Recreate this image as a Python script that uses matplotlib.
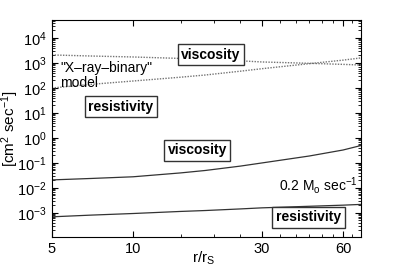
import matplotlib
matplotlib.use("Agg")
import matplotlib.pyplot as plt
from matplotlib.ticker import FixedLocator, NullFormatter, LogFormatterSciNotation

plt.rcParams["font.family"] = ["Liberation Sans", "DejaVu Sans"]
plt.rcParams["mathtext.fontset"] = "custom"
plt.rcParams["mathtext.rm"] = "Liberation Sans"
plt.rcParams["mathtext.it"] = "Liberation Sans"

# r / r_S
r = [5, 7, 10, 15, 18.5, 25, 30, 45, 60, 70]
# "X-ray-binary" model (dotted)
visc_xrb = [2100, 1900, 1740, 1520, 1400, 1220, 1100, 970, 880, 830]
resist_xrb = [100, 140, 190, 270, 330, 470, 590, 940, 1300, 1600]
# 0.2 M_o/sec model (solid)
visc_02 = [0.021, 0.024, 0.028, 0.04, 0.05, 0.075, 0.1, 0.19, 0.33, 0.5]
resist_02 = [7.0e-4, 8.2e-4, 9.5e-4, 1.15e-3, 1.25e-3, 1.45e-3, 1.6e-3, 1.85e-3, 2.05e-3, 2.2e-3]

x_ticks = [5, 10, 30, 60]
y_ticks = [1e-3, 1e-2, 1e-1, 1e0, 1e1, 1e2, 1e3, 1e4]

fig = plt.figure(figsize=(3.99, 2.68), dpi=100)
ax = fig.add_axes([0.130, 0.116, 0.775, 0.809])

ax.plot(r, visc_xrb, ls=(0, (1, 1)), color="0.45", lw=1.0)
ax.plot(r, resist_xrb, ls=(0, (1, 1)), color="0.45", lw=1.0)
ax.plot(r, visc_02, color="0.2", lw=0.9)
ax.plot(r, resist_02, color="0.2", lw=0.9)

ax.set_xscale("log")
ax.set_yscale("log")
ax.set_xlim(5, 70)
ax.set_ylim(1.1e-4, 5.2e4)

ax.xaxis.set_major_locator(FixedLocator(x_ticks))
ax.xaxis.set_minor_locator(FixedLocator([15, 20, 25, 35, 40, 45, 50, 55, 65, 70]))
ax.xaxis.set_minor_formatter(NullFormatter())
ax.set_xticklabels([str(t) for t in x_ticks])
ax.yaxis.set_major_locator(FixedLocator(y_ticks))
ax.yaxis.set_major_formatter(LogFormatterSciNotation())
ax.yaxis.set_minor_locator(FixedLocator([m * 10.0**e for e in range(-4, 5) for m in range(2, 10)]))
ax.yaxis.set_minor_formatter(NullFormatter())

ax.tick_params(which="both", direction="in", top=True, right=True, labelsize=10.5)
ax.tick_params(which="major", length=4)
ax.tick_params(which="minor", length=2)
ax.tick_params(axis="x", pad=4)

ax.set_xlabel(r"r/r$_\mathrm{S}$", fontsize=11)
ax.xaxis.set_label_coords(0.49, -0.06)
ax.set_ylabel(r"[cm$^2$ sec$^{-1}$]", fontsize=11)
ax.yaxis.set_label_coords(-0.1, 0.5)

box = dict(boxstyle="square,pad=0.25", fc="white", ec="0.2", lw=1.0)
ax.text(0.515, 0.84, "viscosity", transform=ax.transAxes, ha="center", va="center",
        fontsize=10, fontweight="bold", bbox=box)
ax.text(0.223, 0.60, "resistivity", transform=ax.transAxes, ha="center", va="center",
        fontsize=10, fontweight="bold", bbox=box)
ax.text(0.47, 0.40, "viscosity", transform=ax.transAxes, ha="center", va="center",
        fontsize=10, fontweight="bold", bbox=box)
ax.text(0.83, 0.09, "resistivity", transform=ax.transAxes, ha="center", va="center",
        fontsize=10, fontweight="bold", bbox=box)
ax.text(0.027, 0.745, "\"X\u2013ray\u2013binary\"\nmodel", transform=ax.transAxes,
        ha="left", va="center", fontsize=10, linespacing=1.05)
ax.text(0.735, 0.235, r"0.2 M$_\mathrm{o}$ sec$^{-1}$", transform=ax.transAxes,
        ha="left", va="center", fontsize=10)

fig.savefig("out.png", dpi=100)
